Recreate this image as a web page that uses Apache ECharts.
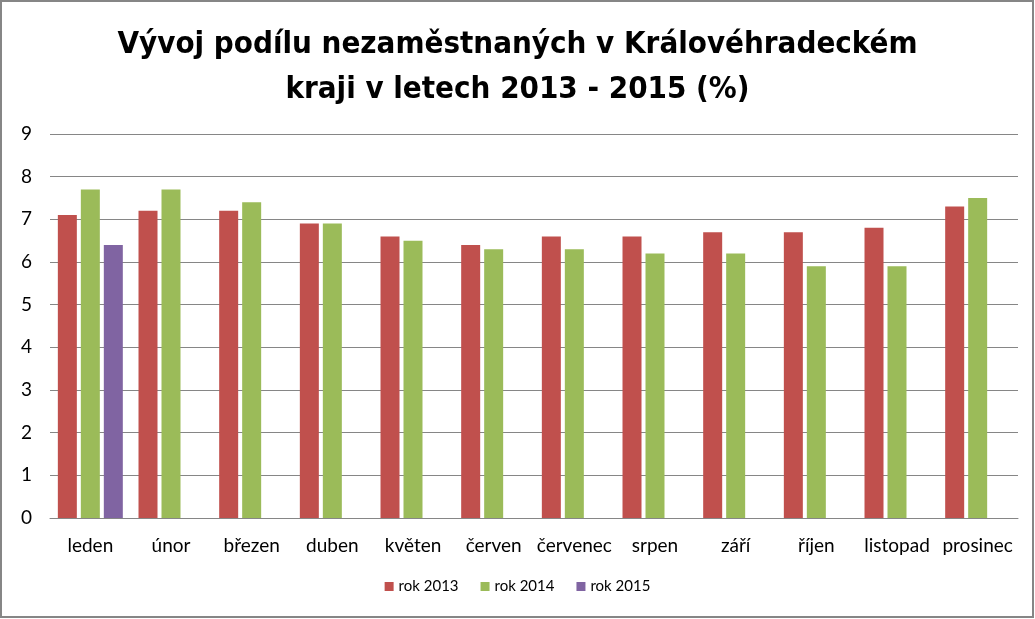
<!DOCTYPE html>
<html>
<head>
<meta charset="utf-8">
<script src="https://cdn.jsdelivr.net/npm/echarts@6/dist/echarts.min.js"></script>
<style>
html,body{margin:0;padding:0;background:#fff;}
#chart{width:1035px;height:619px;}
</style>
</head>
<body>
<div id="chart"></div>
<script>
const categories = ['leden','únor','březen','duben','květen','červen','červenec','srpen','září','říjen','listopad','prosinec'];
const rok2013 = [7.1, 7.2, 7.2, 6.9, 6.6, 6.4, 6.6, 6.6, 6.7, 6.7, 6.8, 7.3];
const rok2014 = [7.7, 7.7, 7.4, 6.9, 6.5, 6.3, 6.3, 6.2, 6.2, 5.9, 5.9, 7.5];
const rok2015 = [6.4, null, null, null, null, null, null, null, null, null, null, null];
const seriesNames = ['rok 2013', 'rok 2014', 'rok 2015'];
const colors = ['#C0504D', '#9BBB59', '#8064A2'];
const titleText = 'Vývoj podílu nezaměstnaných v Královéhradeckém\nkraji v letech 2013 - 2015 (%)';

const chart = echarts.init(document.getElementById('chart'), null, {renderer: 'canvas'});
const labelFont = 'Lato, "Open Sans", sans-serif';
chart.setOption({
  animation: false,
  color: colors,
  title: {
    text: titleText,
    left: 'center',
    top: 17,
    textStyle: {
      fontFamily: '"Liberation Sans Narrow", "DejaVu Sans Condensed", sans-serif',
      fontWeight: 'bold',
      fontSize: 31,
      lineHeight: 45,
      color: '#000'
    }
  },
  graphic: [{
    type: 'rect',
    shape: {x: 1, y: 1, width: 1032, height: 616},
    style: {fill: 'none', stroke: '#868686', lineWidth: 2},
    silent: true
  }],
  legend: {
    bottom: 20,
    left: 'center',
    itemWidth: 9,
    itemHeight: 9,
    itemGap: 22,
    icon: 'rect',
    textStyle: {fontFamily: labelFont, fontSize: 15, color: '#000'},
    data: seriesNames
  },
  grid: {left: 50, right: 17, top: 134, bottom: 101},
  xAxis: {
    type: 'category',
    data: categories,
    axisLine: {lineStyle: {color: '#868686', width: 1}},
    axisTick: {show: false},
    axisLabel: {fontFamily: labelFont, fontSize: 19, color: '#000', margin: 18, interval: 0}
  },
  yAxis: {
    type: 'value',
    min: 0, max: 9, interval: 1,
    axisLine: {show: false},
    axisTick: {show: false},
    splitLine: {lineStyle: {color: '#868686', width: 1}},
    axisLabel: {fontFamily: labelFont, fontSize: 19, color: '#000', margin: 18}
  },
  series: [
    {name: seriesNames[0], type: 'bar', data: rok2013, barWidth: 19, barGap: '21%'},
    {name: seriesNames[1], type: 'bar', data: rok2014, barWidth: 19, barGap: '21%'},
    {name: seriesNames[2], type: 'bar', data: rok2015, barWidth: 19, barGap: '21%'}
  ]
});
</script>
</body>
</html>
